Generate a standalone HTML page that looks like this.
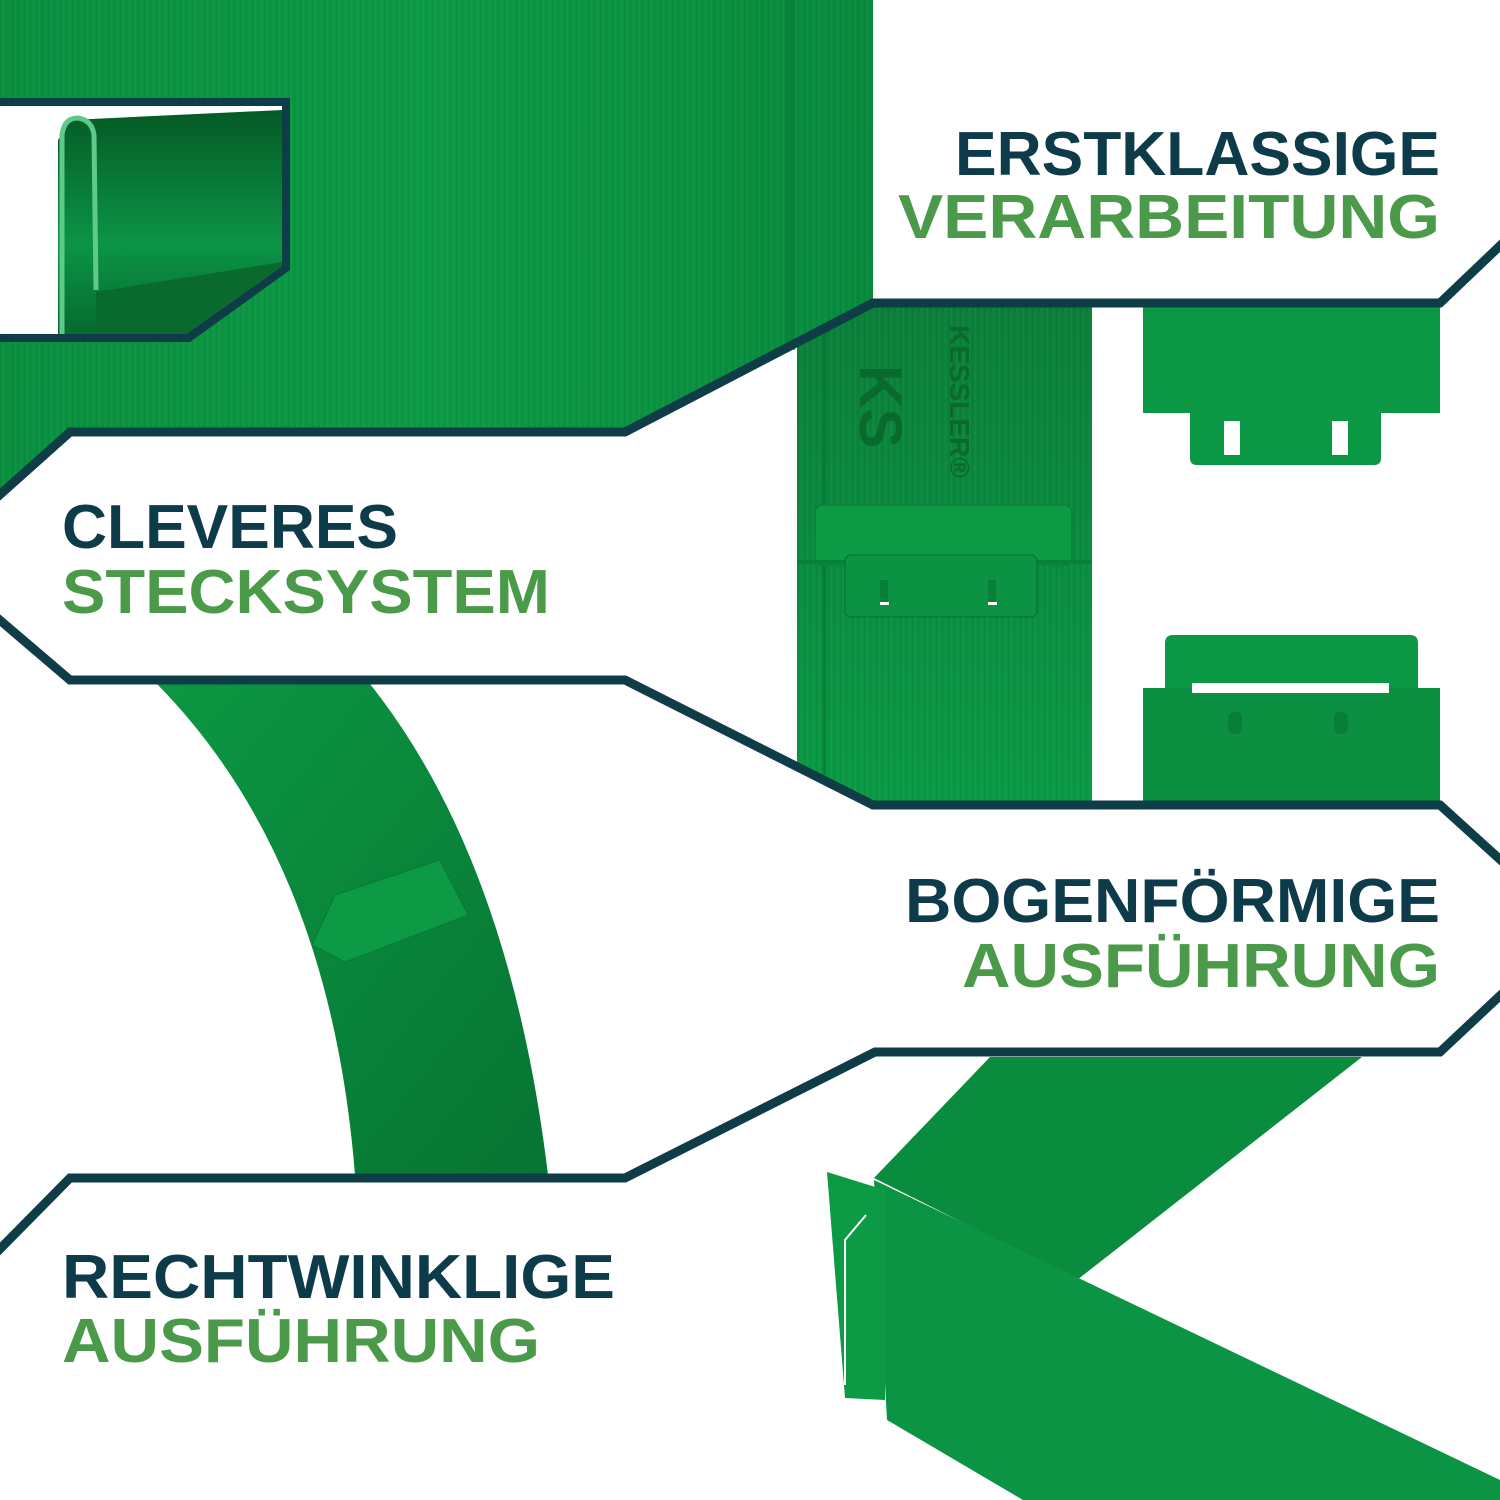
<!DOCTYPE html>
<html><head><meta charset="utf-8"><style>
html,body{margin:0;padding:0;background:#fff;}
svg{display:block;}
text{font-family:"Liberation Sans",sans-serif;font-weight:bold;}
</style></head><body>
<svg width="1500" height="1500" viewBox="0 0 1500 1500" xmlns="http://www.w3.org/2000/svg">
<defs>
<linearGradient id="gA" x1="0" y1="0" x2="1" y2="0">
<stop offset="0" stop-color="#0a8f3f"/><stop offset="0.5" stop-color="#0c9a45"/><stop offset="1" stop-color="#088a3c"/></linearGradient>
<linearGradient id="gV" x1="0" y1="0" x2="0" y2="1">
<stop offset="0" stop-color="#0b7f39"/><stop offset="1" stop-color="#0a9a45"/></linearGradient>
<linearGradient id="gIn" x1="0" y1="0" x2="0" y2="1">
<stop offset="0" stop-color="#055a25"/><stop offset="0.6" stop-color="#0b9446"/><stop offset="1" stop-color="#066b2d"/></linearGradient>
<linearGradient id="gArc" x1="0" y1="0" x2="1" y2="1">
<stop offset="0" stop-color="#0c9742"/><stop offset="1" stop-color="#077433"/></linearGradient>
<pattern id="br" width="6" height="40" patternUnits="userSpaceOnUse">
<rect width="1" height="40" fill="#000" opacity="0.05"/><rect x="3" width="1" height="40" fill="#fff" opacity="0.04"/></pattern>
<clipPath id="mid"><polygon points="625,432 873,303 1440,303 1440,805 873,805 625,680"/></clipPath>
</defs>

<polygon points="0,0 873,0 873,303 625,432 70,432 0,495" fill="url(#gA)"/>
<polygon points="0,0 873,0 873,303 625,432 70,432 0,495" fill="url(#br)"/>
<rect x="785" y="0" width="10" height="350" fill="#067a35" opacity="0.5"/>

<!-- inset -->
<polygon points="0,98 290,98 290,270 190,342 0,342" fill="#0f3d47"/>
<polygon points="0,106 282,106 282,266 186,334 0,334" fill="#fff"/>
<polygon points="58,140 70,120 282,110 282,266 186,334 58,334" fill="url(#gIn)"/>
<path d="M62,334 L62,135 Q64,118 78,118 Q92,120 94,135 L96,290" fill="none" stroke="#5ec98a" stroke-width="5"/>
<polygon points="96,292 282,262 282,266 186,334 96,334" fill="#0a6a2d"/>

<g clip-path="url(#mid)">
<rect x="797" y="305" width="295" height="500" fill="url(#gV)"/>
<rect x="797" y="305" width="295" height="500" fill="url(#br)"/>
<rect x="823" y="305" width="3" height="500" fill="#066f2f" opacity="0.6"/>
<rect x="815" y="505" width="257" height="60" rx="8" fill="#0c9a45" stroke="#077a36"/>
<rect x="797" y="560" width="295" height="4" fill="#07803a"/>
<rect x="845" y="555" width="192" height="62" rx="6" fill="#0b9242" stroke="#066f2f"/>
<rect x="880" y="580" width="8" height="22" fill="#087f38"/><rect x="880" y="602" width="9" height="3" fill="#fff"/>
<rect x="988" y="580" width="8" height="22" fill="#087f38"/><rect x="988" y="602" width="9" height="3" fill="#fff"/>
<text x="845" y="420" font-family="Liberation Serif,serif" font-size="60" fill="#0a6a2d" transform="rotate(90 880 400)" font-weight="normal">KS</text>
<text x="945" y="330" font-family="Liberation Serif,serif" font-size="28" fill="#0a6a2d" font-weight="normal" transform="rotate(90 950 330)">KESSLER®</text>
</g>

<rect x="1143" y="305" width="297" height="108" fill="#0c9744"/>
<path d="M1190,413 L1381,413 L1381,458 Q1381,465 1374,465 L1197,465 Q1190,465 1190,458 Z" fill="#0c9744"/>
<rect x="1224" y="421" width="16" height="34" fill="#fff"/>
<rect x="1332" y="421" width="16" height="34" fill="#fff"/>
<path d="M1165,690 L1165,643 Q1165,635 1173,635 L1410,635 Q1418,635 1418,643 L1418,690 Z" fill="#0c9744"/>
<rect x="1143" y="688" width="297" height="117" fill="#0a9040"/>
<rect x="1192" y="683" width="197" height="10" fill="#fff"/>
<rect x="1228" y="712" width="14" height="22" rx="6" fill="#087f38"/>
<rect x="1334" y="712" width="14" height="22" rx="6" fill="#087f38"/>

<!-- arc -->
<path d="M157,684 Q330,860 355,1175 L548,1175 Q510,860 370,684 Z" fill="url(#gArc)"/>
<polygon points="312,945 335,895 440,860 468,915 345,962" fill="#0c9a45" stroke="#077a36"/>

<!-- bottom right corner piece -->
<polygon points="874,1178 990,1057 1362,1057 1077,1280" fill="#0a8c3f"/>
<polygon points="874,1180 1500,1480 1500,1500 1023,1500 887,1420" fill="#0b9443"/>
<polygon points="827,1172 885,1190 885,1400 845,1398" fill="#0c9a45"/>
<polyline points="866,1215 845,1240 845,1385" fill="none" stroke="#fff" stroke-width="2"/>

<g fill="none" stroke="#0f3d47" stroke-width="9" stroke-linejoin="miter">
<polyline points="-5,499 70,432 625,432 873,303 1440,303 1505,241"/>
<polyline points="-5,616 70,680 625,680 873,805 1440,805 1505,864"/>
<polyline points="1505,991 1440,1052 875,1052 625,1178 70,1178 -5,1254"/>
</g>

<g font-size="62">
<text x="955" y="175" fill="#0d3b4a" textLength="485" lengthAdjust="spacingAndGlyphs">ERSTKLASSIGE</text>
<text x="898" y="238" fill="#4a9a4a" textLength="542" lengthAdjust="spacingAndGlyphs">VERARBEITUNG</text>
<text x="62" y="548" fill="#0d3b4a" textLength="336" lengthAdjust="spacingAndGlyphs">CLEVERES</text>
<text x="62" y="613" fill="#4a9a4a" textLength="488" lengthAdjust="spacingAndGlyphs">STECKSYSTEM</text>
<text x="905" y="922" fill="#0d3b4a" textLength="535" lengthAdjust="spacingAndGlyphs">BOGENFÖRMIGE</text>
<text x="962" y="987" fill="#4a9a4a" textLength="478" lengthAdjust="spacingAndGlyphs">AUSFÜHRUNG</text>
<text x="62" y="1298" fill="#0d3b4a" textLength="553" lengthAdjust="spacingAndGlyphs">RECHTWINKLIGE</text>
<text x="62" y="1362" fill="#4a9a4a" textLength="478" lengthAdjust="spacingAndGlyphs">AUSFÜHRUNG</text>
</g>
</svg>
</body></html>
